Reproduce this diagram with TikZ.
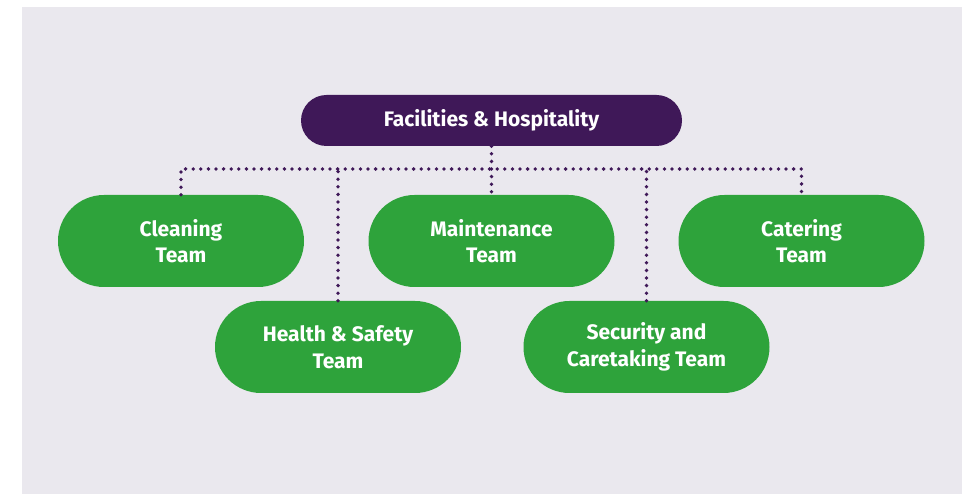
\documentclass[tikz,border=0pt]{standalone}
\usepackage{fontspec}
\setmainfont{Fira Sans}
\definecolor{bgc}{HTML}{EAE8EE}
\definecolor{purp}{HTML}{3F1858}
\definecolor{grn}{HTML}{2EA33B}
\tikzset{
  topbox/.style={rectangle, rounded corners=25.5pt, fill=purp, text=white,
    minimum width=381pt, minimum height=51pt, inner sep=0pt,
    font=\fontsize{21}{25}\selectfont\bfseries},
  teambox/.style={rectangle, rounded corners=46pt, fill=grn, text=white,
    minimum width=246pt, minimum height=92pt, inner sep=0pt, align=center,
    font=\fontsize{21}{26.5}\selectfont\bfseries},
  dotline/.style={draw=purp, line width=3.8pt, line cap=round,
    dash pattern=on 0pt off 7.6pt}
}
\begin{document}
\begin{tikzpicture}[x=1pt,y=-1pt]
\useasboundingbox (0,0) rectangle (962,494);
\fill[white] (0,0) rectangle (962,494);
\fill[bgc] (22,7) rectangle (962,494);
\node[topbox] (top) at (491.5,120.5) {Facilities \& Hospitality};
\node[teambox] (clean) at (181,241) {Cleaning\\Team};
\node[teambox] (maint) at (491.5,241) {Maintenance\\Team};
\node[teambox] (cater) at (801.5,241) {Catering\\Team};
\node[teambox] (health) at (338,347) {Health \& Safety\\Team};
\node[teambox] (sec) at (646.5,347) {Security and\\Caretaking Team};
\coordinate (bus) at (491.5,169);
\draw[dotline] (top.south) -- (maint.north);
\draw[dotline] (clean.north) -- (clean.north |- bus) -- (cater.north |- bus) -- (cater.north);
\draw[dotline] (health.north) -- (health.north |- bus);
\draw[dotline] (sec.north) -- (sec.north |- bus);
\end{tikzpicture}
\end{document}
